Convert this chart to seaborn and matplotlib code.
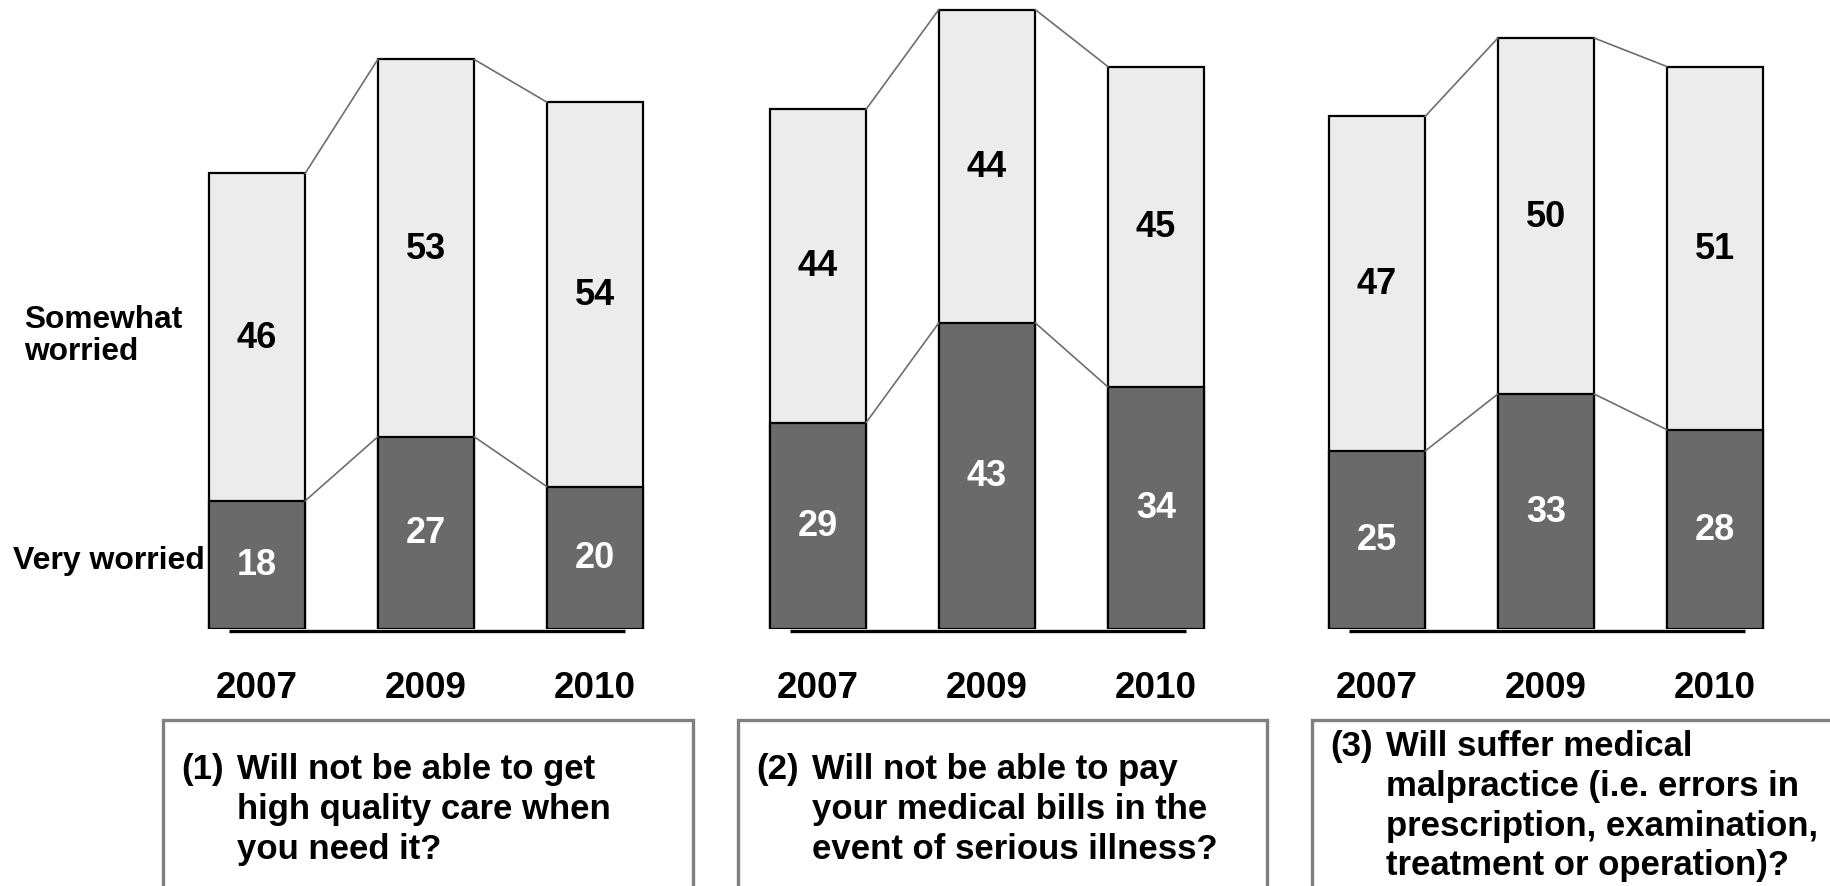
import matplotlib
matplotlib.use("Agg")
import matplotlib.pyplot as plt
from matplotlib.patches import Rectangle
import pandas as pd
import seaborn as sns

# ---- data -------------------------------------------------------------
years = ["2007", "2009", "2010"]
very_worried = [
    [18, 27, 20],   # (1) quality care
    [29, 43, 34],   # (2) medical bills
    [25, 33, 28],   # (3) malpractice
]
somewhat_worried = [
    [46, 53, 54],
    [44, 44, 45],
    [47, 50, 51],
]
question_numbers = ["(1)", "(2)", "(3)"]
question_lines = [
    ["Will not be able to get", "high quality care when", "you need it?"],
    ["Will not be able to pay", "your medical bills in the", "event of serious illness?"],
    ["Will suffer medical", "malpractice (i.e. errors in",
     "prescription, examination,", "treatment or operation)?"],
]
series_labels = ["Somewhat\nworried", "Very worried"]

# ---- style ------------------------------------------------------------
sns.set_theme(style="white")
plt.rcParams["font.family"] = ["Liberation Sans", "DejaVu Sans"]
plt.rcParams["font.weight"] = "bold"
plt.rcParams["text.color"] = "black"

DARK = "#6a6a6a"
LIGHT = "#ececec"
LINK = "#6e6e6e"

W, H = 1830, 887
fig = plt.figure(figsize=(W / 100, H / 100), dpi=100)
fig.patch.set_facecolor("white")

def fx(px):
    return px / W

def fy(py):
    return 1 - py / H

step_px = 169.0        # distance between bar centres
first_centre = [257.0, 818.0, 1377.0]
baseline_px = 630.0
px_per_unit = 7.12
ytop = baseline_px / px_per_unit
bar_w = 0.57

box_left = [163, 738, 1312]
box_right = [693, 1267, 1860]
box_top = 721
text_top = [769.5, 769.5, 746.5]
line_step = 39.8

for i in range(3):
    left = first_centre[i] - 0.5 * step_px
    ax = fig.add_axes([fx(left), fy(baseline_px), fx(3 * step_px), baseline_px / H])

    vw = very_worried[i]
    sw = somewhat_worried[i]
    total = [a + b for a, b in zip(vw, sw)]
    df = pd.DataFrame({"year": years, "very": vw, "total": total})

    sns.barplot(data=df, x="year", y="total", order=years, color=LIGHT,
                saturation=1, width=bar_w, edgecolor="black", linewidth=1.6,
                errorbar=None, ax=ax)
    sns.barplot(data=df, x="year", y="very", order=years, color=DARK,
                saturation=1, width=bar_w, edgecolor="black", linewidth=1.6,
                errorbar=None, ax=ax)
    ax.set_xlim(-0.5, 2.5)
    ax.set_ylim(0, ytop)
    ax.axis("off")

    # connector lines between neighbouring bars
    for k in range(2):
        for series in (vw, total):
            ax.plot([k + bar_w / 2, k + 1 - bar_w / 2], [series[k], series[k + 1]],
                    color=LINK, lw=1.2, zorder=1, clip_on=False)

    # base line under the bars
    ax.plot([-0.165, 2.18], [-0.25, -0.25], color="black", lw=2.4,
            solid_capstyle="butt", clip_on=False, zorder=0)

    # value labels
    for k in range(3):
        ax.text(k, vw[k] / 2, str(vw[k]), ha="center", va="center",
                color="white", fontsize=26, fontweight="bold")
        ax.text(k, vw[k] + sw[k] / 2, str(sw[k]), ha="center", va="center",
                color="black", fontsize=26, fontweight="bold")
        ax.text(k, -58.5 / px_per_unit, years[k], ha="center", va="center",
                color="black", fontsize=26.5, fontweight="bold", clip_on=False)

    # question box
    fig.patches.append(Rectangle((fx(box_left[i]), fy(H + 20)),
                                 fx(box_right[i] - box_left[i]), (H + 20 - box_top) / H,
                                 transform=fig.transFigure, facecolor="none",
                                 edgecolor="#808080", lw=2.4, zorder=0))
    fig.text(fx(box_left[i] + 18), fy(text_top[i]), question_numbers[i],
             ha="left", va="center", fontsize=25, fontweight="bold")
    for j, line in enumerate(question_lines[i]):
        fig.text(fx(box_left[i] + 74), fy(text_top[i] + j * line_step), line,
                 ha="left", va="center", fontsize=25, fontweight="bold")

# series labels on the left
fig.text(fx(24), fy(336), series_labels[0], ha="left", va="center",
         fontsize=22.8, fontweight="bold", linespacing=1.12)
fig.text(fx(13), fy(561), series_labels[1], ha="left", va="center",
         fontsize=23, fontweight="bold")

fig.savefig("out.png", dpi=100, facecolor="white")
